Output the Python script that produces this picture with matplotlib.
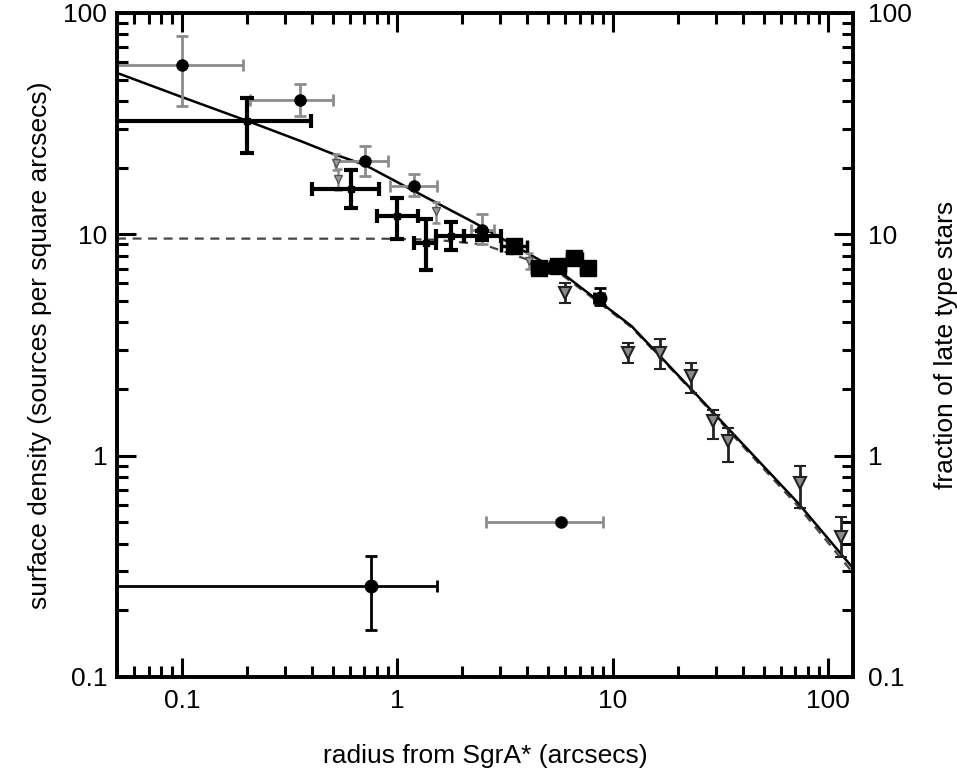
import matplotlib
matplotlib.use("Agg")
import matplotlib.pyplot as plt
from matplotlib import font_manager
import numpy as np

fams = {f.name for f in font_manager.fontManager.ttflist}
FONT = "Liberation Sans Narrow" if "Liberation Sans Narrow" in fams else "Liberation Sans"
plt.rcParams['font.family'] = [FONT, 'DejaVu Sans']

# ---- data ----
# gray error-bar series, black filled circles
gray_x = [0.1, 0.352, 0.705, 1.20, 2.48, 5.75]
gray_y = [58.0, 40.5, 21.5, 16.6, 10.5, 0.50]
gray_xlo = [0.04, 0.208, 0.516, 0.925, 2.2, 2.58]
gray_xhi = [0.192, 0.503, 0.908, 1.52, 2.8, 9.04]
gray_ylo = [38.0, 34.2, 18.4, 14.9, 9.0, 0.49]
gray_yhi = [78.7, 47.8, 25.0, 18.7, 12.3, 0.51]

# thick black error-bar series
blk_x = [0.2, 0.607, 1.0, 1.36, 1.77, 2.48]
blk_y = [32.6, 16.1, 12.1, 9.16, 9.82, 9.82]
blk_xlo = [0.03, 0.403, 0.807, 1.19, 1.51, 2.04]
blk_xhi = [0.398, 0.82, 1.24, 1.51, 2.04, 3.03]
blk_ylo = [23.3, 13.1, 9.55, 6.89, 8.49, 9.4]
blk_yhi = [41.5, 19.5, 14.6, 11.7, 11.4, 10.3]

# black squares
sq_x = [3.48, 4.56, 5.55, 6.63, 7.65]
sq_y = [8.85, 7.06, 7.19, 7.85, 7.06]
sq_xlo = [3.03, 4.2, 5.1, 6.1, 7.1]
sq_xhi = [4.0, 5.0, 6.0, 7.2, 8.2]

# black circles with thin black error bars
circ_x = [0.758, 8.67]
circ_y = [0.259, 5.18]
circ_xlo = [0.03, 8.2]
circ_xhi = [1.52, 9.1]
circ_ylo = [0.163, 4.8]
circ_yhi = [0.353, 5.7]

# gray triangles, inner region
tin_x = [0.52, 0.53, 1.51, 4.09]
tin_y = [21.1, 17.7, 12.7, 7.57]
tin_ylo = [19.5, 15.8, 11.3, 7.0]
tin_yhi = [23.0, 19.8, 14.0, 8.2]

# triangles, outer region
tout_x = [6.0, 11.7, 16.5, 23.1, 29.2, 34.3, 73.8, 115.0]
tout_y = [5.45, 2.92, 2.92, 2.29, 1.43, 1.16, 0.75, 0.43]
tout_ylo = [4.91, 2.61, 2.47, 1.92, 1.19, 0.94, 0.58, 0.35]
tout_yhi = [6.04, 3.24, 3.37, 2.62, 1.61, 1.33, 0.895, 0.528]

# solid model curve
fit_x = [0.0516, 0.1, 0.2, 0.355, 0.49, 0.705, 1.15, 2.27, 5.75, 12.2, 24.0, 72.4, 132.0]
fit_y = [53.0, 41.7, 32.6, 26.4, 23.3, 20.6, 16.0, 11.3, 6.73, 3.85, 1.92, 0.61, 0.305]

# dashed model curve
core_x = [0.05, 0.9, 1.5, 2.5, 4.0, 5.75, 12.2, 24.0, 72.4, 132.0]
core_y = [9.57, 9.55, 9.45, 9.0, 7.7, 6.6, 3.8, 1.9, 0.59, 0.29]

x_ticks = [0.1, 1, 10, 100]
x_ticklabels = ["0.1", "1", "10", "100"]
y_ticks = [0.1, 1, 10, 100]
y_ticklabels = ["0.1", "1", "10", "100"]

# ---- figure ----
fig = plt.figure(figsize=(9.57, 7.82), dpi=100)
ax = fig.add_axes([0.1223, 0.1343, 0.7690, 0.8491])
ax.set_xscale('log')
ax.set_yscale('log')
ax.set_xlim(0.05, 130)
ax.set_ylim(0.1, 100)

def err(v, lo, hi):
    v = np.asarray(v); return [v - np.asarray(lo), np.asarray(hi) - v]

ax.plot(core_x, core_y, ls=(0, (4, 3)), color='#444444', lw=1.6, zorder=2)
ax.plot(fit_x, fit_y, '-', color='black', lw=1.8, zorder=2)

ax.errorbar(gray_x, gray_y, xerr=err(gray_x, gray_xlo, gray_xhi),
            yerr=err(gray_y, gray_ylo, gray_yhi), fmt='o', color='black',
            ms=8, ecolor='#8c8c8c', elinewidth=2.0, capsize=4, capthick=2.0, zorder=3)
ax.errorbar(tin_x, tin_y, yerr=err(tin_y, tin_ylo, tin_yhi), fmt='v', ms=6,
            mfc='#9a9a9a', mec='#555555', ecolor='#8c8c8c', elinewidth=1.8,
            capsize=3, capthick=1.8, zorder=3)
ax.errorbar(tout_x, tout_y, yerr=err(tout_y, tout_ylo, tout_yhi), fmt='v', ms=8,
            mfc='#8a8a8a', mec='#222222', mew=1.5, ecolor='#222222', elinewidth=2.0,
            capsize=4, capthick=2.0, zorder=3)
ax.errorbar(blk_x, blk_y, xerr=err(blk_x, blk_xlo, blk_xhi),
            yerr=err(blk_y, blk_ylo, blk_yhi), fmt='s', ms=4, color='black',
            ecolor='black', elinewidth=3.0, capsize=5, capthick=3.0, zorder=4)
ax.errorbar(sq_x, sq_y, xerr=err(sq_x, sq_xlo, sq_xhi), fmt='s', ms=11, color='black',
            ecolor='black', elinewidth=2.5, capsize=4, capthick=2.5, zorder=4)
ax.errorbar(circ_x, circ_y, xerr=err(circ_x, circ_xlo, circ_xhi),
            yerr=err(circ_y, circ_ylo, circ_yhi), fmt='o', ms=9, color='black',
            ecolor='black', elinewidth=2.0, capsize=4, capthick=2.0, zorder=4)

for s in ax.spines.values():
    s.set_linewidth(2.6)

FS = 19
ax.set_xticks(x_ticks)
ax.set_xticklabels(x_ticklabels)
ax.set_yticks(y_ticks)
ax.set_yticklabels(y_ticklabels)
ax.tick_params(which='major', direction='in', length=14, width=2.2, top=True,
               right=False, labelsize=FS, pad=9)
ax.tick_params(which='major', axis='y', pad=7)
ax.tick_params(which='minor', direction='in', length=8, width=2.2, top=True, right=False)
ax.set_xlabel("radius from SgrA* (arcsecs)", fontsize=FS, labelpad=22)
ax.set_ylabel("surface density (sources per square arcsecs)", fontsize=FS, labelpad=8)

ax2 = ax.twinx()
ax2.set_yscale('log')
ax2.set_ylim(0.1, 100)
ax2.set_yticks(y_ticks)
ax2.set_yticklabels(y_ticklabels)
ax2.tick_params(which='major', direction='in', length=14, width=2.2, labelsize=FS, pad=11)
ax2.tick_params(which='minor', direction='in', length=8, width=2.2)
ax2.set_ylabel("fraction of late type stars", fontsize=FS, labelpad=16)
for s in ax2.spines.values():
    s.set_linewidth(2.6)

fig.savefig("out.png", dpi=100)
